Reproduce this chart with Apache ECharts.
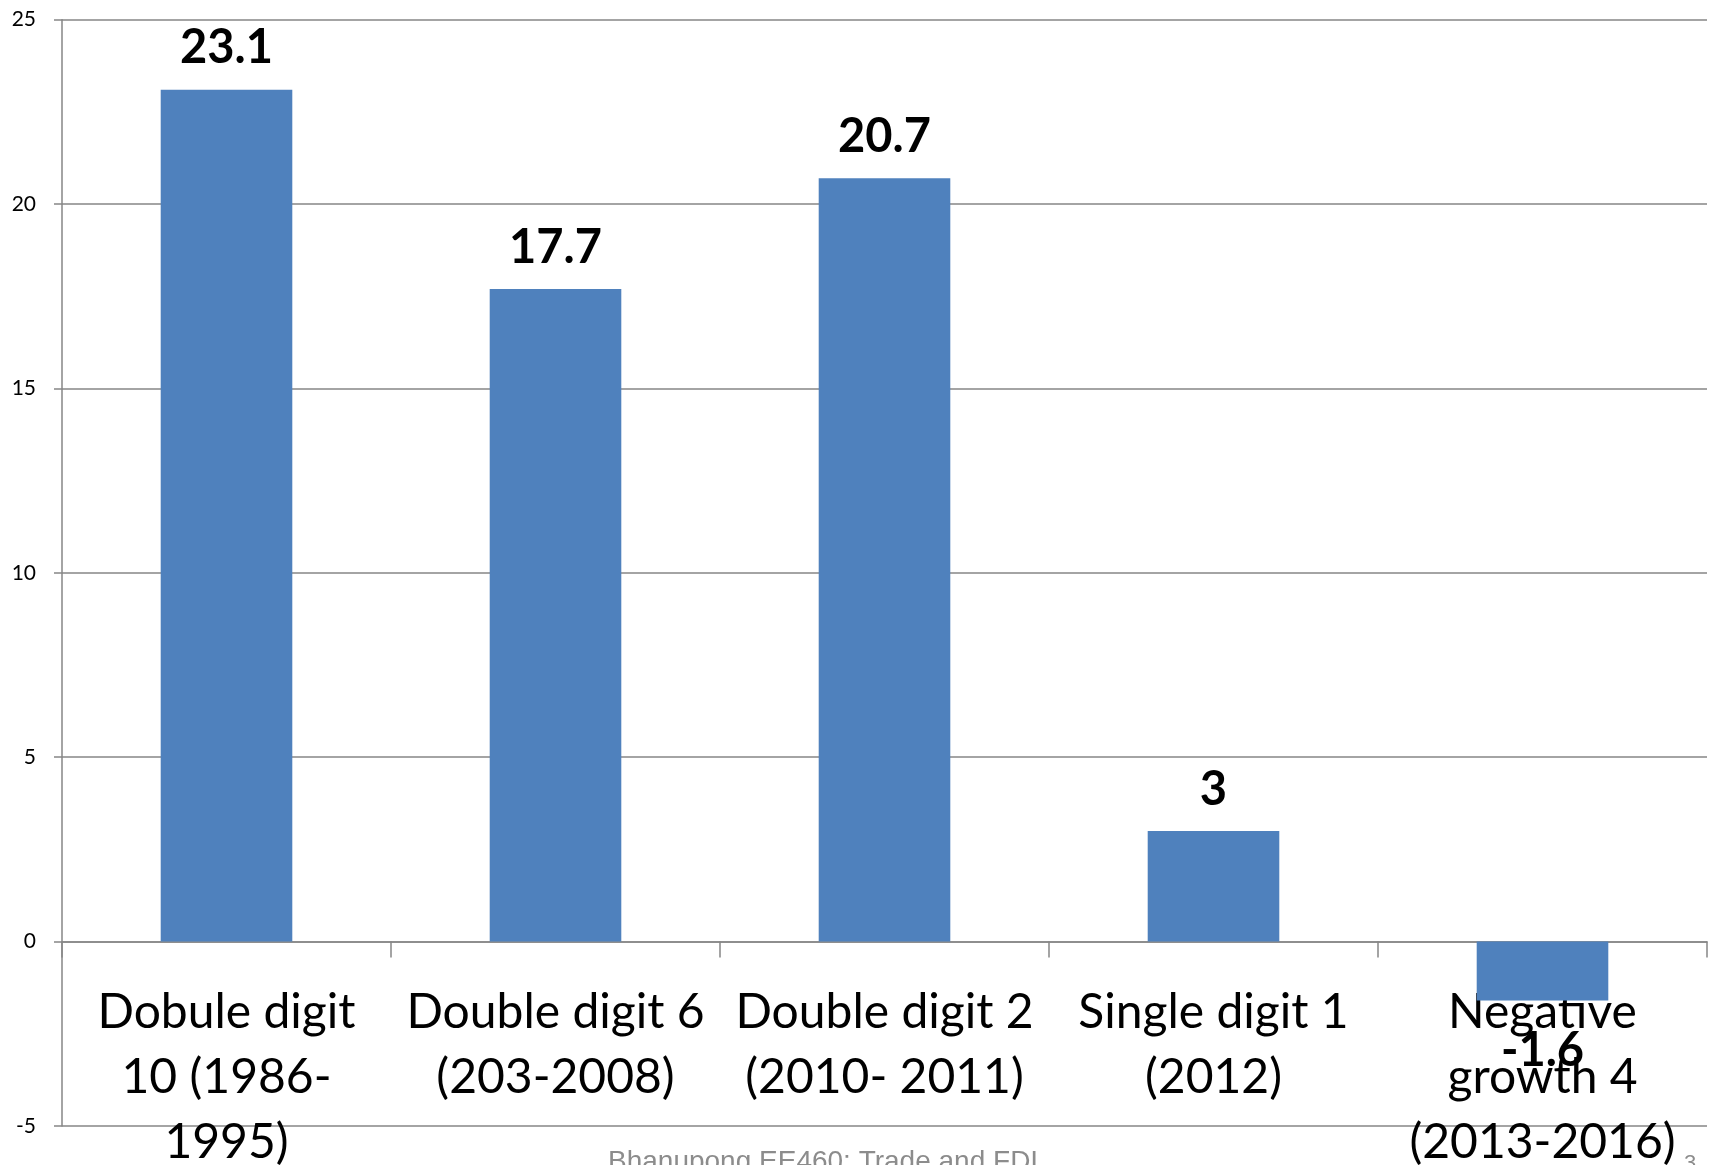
<!DOCTYPE html>
<html>
<head>
<meta charset="utf-8">
<title>Growth phases</title>
<script src="https://cdn.jsdelivr.net/npm/echarts@6/dist/echarts.min.js"></script>
<style>
  html, body { margin: 0; padding: 0; background: #ffffff; }
  #chart { width: 1713px; height: 1165px; }
</style>
</head>
<body>
<div id="chart"></div>
<script>
// Growth phases and their average rates
const categories = [
  'Dobule digit\n10 (1986-\n1995)',
  'Double digit 6\n(203-2008)',
  'Double digit 2\n(2010- 2011)',
  'Single digit 1\n(2012)',
  'Negative\ngrowth 4\n(2013-2016)'
];
const values = [23.1, 17.7, 20.7, 3, -1.6];
const yTicks = { min: -5, max: 25, step: 5 };

const footerText = 'Bhanupong EE460: Trade and FDI';
const slideNumber = '3';

const barColor = '#4F81BD';
const lineColor = '#868686';

// Negative values get their label below the bar
const barData = values.map(v => ({
  value: v,
  label: v < 0 ? { position: 'bottom', distance: 27 } : { position: 'top', distance: 18 }
}));

const chart = echarts.init(document.getElementById('chart'), null, { renderer: 'canvas' });

chart.setOption({
  animation: false,
  backgroundColor: '#ffffff',
  grid: {
    left: 62, right: 6, top: 19.7, bottom: 39,
    containLabel: false,
    outerBoundsMode: 'none'
  },
  xAxis: {
    type: 'category',
    data: categories,
    axisLine: { onZero: true, lineStyle: { color: lineColor, width: 1.5 } },
    axisTick: { show: true, length: 16, lineStyle: { color: lineColor, width: 1.5 } },
    axisLabel: {
      interval: 0,
      // category labels sit just under the zero line, above the grid's lower edge
      margin: -146,
      color: '#000000',
      fontFamily: 'Lato',
      fontSize: 48,
      lineHeight: 65,
      align: 'center'
    },
    splitLine: { show: false }
  },
  yAxis: {
    type: 'value',
    min: yTicks.min,
    max: yTicks.max,
    interval: yTicks.step,
    axisLine: { show: true, lineStyle: { color: lineColor, width: 1.5 } },
    axisTick: { show: true, length: 8, lineStyle: { color: lineColor, width: 1.5 } },
    axisLabel: {
      margin: 26,
      color: '#000000',
      fontFamily: 'Lato',
      fontSize: 21
    },
    splitLine: { show: true, lineStyle: { color: lineColor, width: 1.5 } }
  },
  series: [{
    type: 'bar',
    data: barData,
    barWidth: '40%',
    itemStyle: { color: barColor },
    label: {
      show: true,
      color: '#000000',
      fontFamily: 'Lato',
      fontWeight: 'bold',
      fontSize: 47
    }
  }],
  graphic: [
    {
      type: 'text',
      left: 608,
      top: 1148,
      style: {
        text: footerText,
        fill: '#8c8c8c',
        font: '28px "Liberation Sans", Arial, sans-serif'
      }
    },
    {
      type: 'text',
      left: 1684,
      top: 1153,
      style: {
        text: slideNumber,
        fill: '#8c8c8c',
        font: '22px "Liberation Sans", Arial, sans-serif'
      }
    }
  ]
});
</script>
</body>
</html>
